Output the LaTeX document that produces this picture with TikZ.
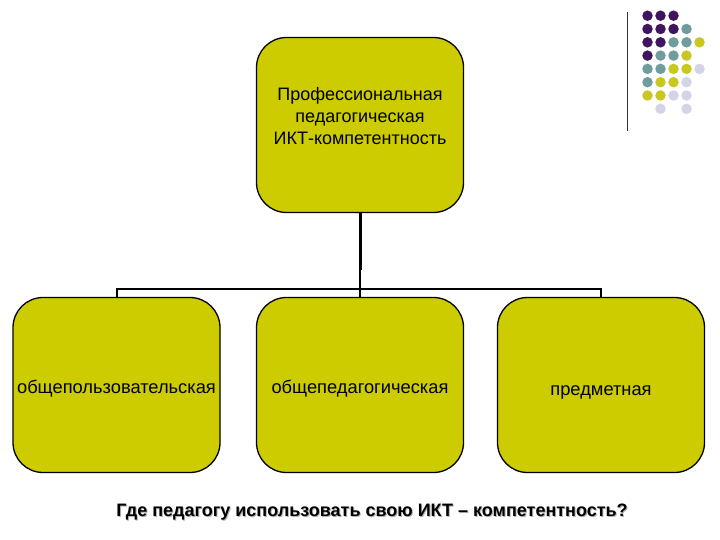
\documentclass[tikz,border=0pt]{standalone}
\usepackage{fontspec}
\setmainfont{Liberation Sans}
\definecolor{boxfill}{HTML}{CCCC00}
\definecolor{dP}{HTML}{3F1560}
\definecolor{dT}{HTML}{6F9C9C}
\definecolor{dY}{HTML}{C8C820}
\definecolor{dL}{HTML}{D4D4E8}
\begin{document}
\begin{tikzpicture}[x=1pt,y=-1pt,
  cbox/.style={draw=black,line width=1.3pt,fill=boxfill,rounded corners=30pt,
    minimum width=207pt,minimum height=175pt,inner sep=0pt},
  btext/.style={anchor=base,inner sep=0pt,font=\fontsize{18.3}{22}\selectfont},
  ttext/.style={align=center,inner sep=0pt,font=\fontsize{18}{21.7}\selectfont},
  qtext/.style={font=\bfseries\fontsize{18}{22}\selectfont,inner sep=0pt},
  conn/.style={line width=2pt},
  dot/.style={circle,inner sep=0pt,minimum size=10.5pt}]
\useasboundingbox (0,0) rectangle (720,540);
\fill[white] (0,0) rectangle (720,540);
% boxes
\node[cbox] (top) at (360,125) {};
\node[ttext] (toptext) at (360,116) {Профессиональная\\педагогическая\\ИКТ-компетентность};
\node[cbox] (b1) at (116.5,385) {};
\node[cbox] (b2) at (360,385) {};
\node[cbox] (b3) at (601,385) {};
\node[btext] (t1) at (116.5,393) {общепользовательская};
\node[btext] (t2) at (360,393) {общепедагогическая};
\node[btext] (t3) at (601,395) {предметная};
% connectors
\coordinate (bus) at (360,289);
\coordinate (mid) at (360,270);
\draw[line width=3pt] (top.south) -- (mid);
\draw[conn] (mid) -- (bus);
\draw[conn] (b1.north) -- (b1.north |- bus) -- (b3.north |- bus) -- (b3.north);
\draw[conn] (bus) -- (b2.north);
% question
\node[qtext,text=black!30] at (373,513) {Где педагогу использовать свою ИКТ – компетентность?};
\node[qtext] (q) at (372,512) {Где педагогу использовать свою ИКТ – компетентность?};
% decoration
\draw[line width=1pt,black!80] (627,12.5) -- (627,131.5);
\foreach \c/\r/\col in {1/1/dP,2/1/dP,3/1/dP,
  1/2/dP,2/2/dP,3/2/dP,4/2/dT,
  1/3/dP,2/3/dP,3/3/dT,4/3/dT,5/3/dY,
  1/4/dP,2/4/dT,3/4/dT,4/4/dY,
  1/5/dT,2/5/dT,3/5/dY,4/5/dY,5/5/dL,
  1/6/dT,2/6/dY,3/6/dY,4/6/dL,
  1/7/dY,2/7/dY,3/7/dL,4/7/dL,
  2/8/dL,4/8/dL}{
  \node[dot,fill=\col] (d\c\r) at ({647.5+13*(\c-1)},{15.7+13.3*(\r-1)}) {};
}
\end{tikzpicture}
\end{document}
